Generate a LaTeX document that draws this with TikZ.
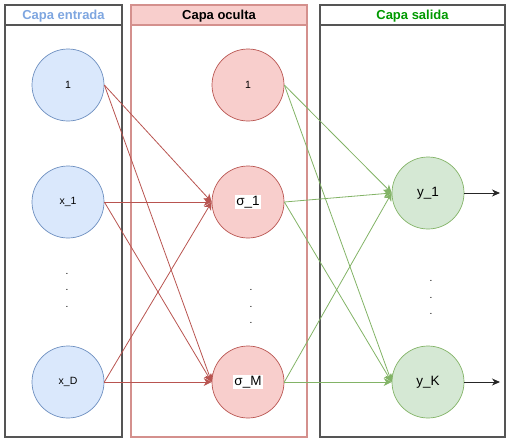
\documentclass[tikz,border=0pt]{standalone}
\usepackage{fontspec}
\setmainfont{Liberation Sans}
\usetikzlibrary{arrows.meta}
\definecolor{inblue}{HTML}{DAE8FC}
\definecolor{inbluedraw}{HTML}{6C8EBF}
\definecolor{hidred}{HTML}{F8CECC}
\definecolor{hidreddraw}{HTML}{B85450}
\definecolor{outgreen}{HTML}{D5E8D4}
\definecolor{outgreendraw}{HTML}{82B366}
\definecolor{titleblue}{HTML}{7EA6E0}
\definecolor{titlegreen}{HTML}{009900}
\definecolor{boxred}{HTML}{D4908D}
\definecolor{boxgray}{HTML}{555555}
\newcommand{\sigbox}[1]{{\setlength{\fboxsep}{1pt}\colorbox{white}{#1}}}
\tikzset{
  layerbox/.style={draw=boxgray, line width=1.3pt},
  neuron/.style={circle, minimum size=72pt, inner sep=0pt, line width=0.7pt},
  inneuron/.style={neuron, fill=inblue, draw=inbluedraw, font=\fontsize{10.5}{12}\selectfont},
  hidneuron/.style={neuron, fill=hidred, draw=hidreddraw, font=\fontsize{13.5}{15}\selectfont},
  outneuron/.style={neuron, fill=outgreen, draw=outgreendraw, font=\fontsize{13.5}{15}\selectfont},
  title/.style={font=\bfseries\fontsize{13}{15}\selectfont},
  dotsnode/.style={inner sep=0pt, font=\fontsize{10}{11}\selectfont},
  redarrow/.style={draw=hidreddraw, line width=0.8pt, -{Stealth[length=8pt,width=8pt,inset=2.5pt]}},
  greenarrow/.style={draw=outgreendraw, line width=0.8pt, -{Stealth[length=8pt,width=8pt,inset=2.5pt]}},
  blackarrow/.style={draw=black!85, line width=1pt, -{Stealth[length=8pt,width=7pt,inset=2.5pt]}},
}
\begin{document}
\begin{tikzpicture}[x=1pt,y=-1pt]
\useasboundingbox (0,0) rectangle (513,442);
% layer boxes
\draw[layerbox] (5,5) rectangle (122,437);
\draw[layerbox] (5,25) -- (122,25);
\node[title, text=titleblue] (tin) at (63.5,16) {Capa entrada};
\fill[hidred] (131,5) rectangle (307,25);
\draw[boxred, line width=1.1pt] (131,5) rectangle (307,437);
\draw[boxred, line width=1.1pt] (131,25) -- (307,25);
\node[title, text=black] (thid) at (219,16) {Capa oculta};
\draw[layerbox] (320,5) rectangle (505,437);
\draw[layerbox] (320,25) -- (505,25);
\node[title, text=titlegreen] (tout) at (412.5,16) {Capa salida};
% neurons
\node[inneuron] (i0) at (68,85) {1};
\node[inneuron] (i1) at (68,202) {x\_1};
\node[inneuron] (iD) at (68,382) {x\_D};
\node[hidneuron] (h0) at (248,85) {\fontsize{10.5}{12}\selectfont 1};
\node[hidneuron] (h1) at (248,202) {\sigbox{σ\_1}};
\node[hidneuron] (hM) at (248,382) {\sigbox{σ\_M}};
\node[outneuron] (o1) at (428,193) {y\_1};
\node[outneuron] (oK) at (428,382) {y\_K};
% dots
\node[dotsnode] (di1) at (67,274) {.};
\node[dotsnode] (di2) at (67,290) {.};
\node[dotsnode] (di3) at (67,307) {.};
\node[dotsnode] (dh1) at (251,290) {.};
\node[dotsnode] (dh2) at (251,307) {.};
\node[dotsnode] (dh3) at (251,323) {.};
\node[dotsnode] (do1) at (431,281) {.};
\node[dotsnode] (do2) at (431,298) {.};
\node[dotsnode] (do3) at (431,314) {.};
% input -> hidden
\foreach \s in {i0,i1,iD}{
  \draw[redarrow] (\s.east) -- (h1.west);
  \draw[redarrow] (\s.east) -- (hM.west);
}
% hidden -> output
\foreach \s in {h0,h1,hM}{
  \draw[greenarrow] (\s.east) -- (o1.west);
  \draw[greenarrow] (\s.east) -- (oK.west);
}
% outputs
\coordinate (e1) at (500,193);
\coordinate (eK) at (500,382);
\draw[blackarrow] (o1.east) -- (e1);
\draw[blackarrow] (oK.east) -- (eK);
\end{tikzpicture}
\end{document}
